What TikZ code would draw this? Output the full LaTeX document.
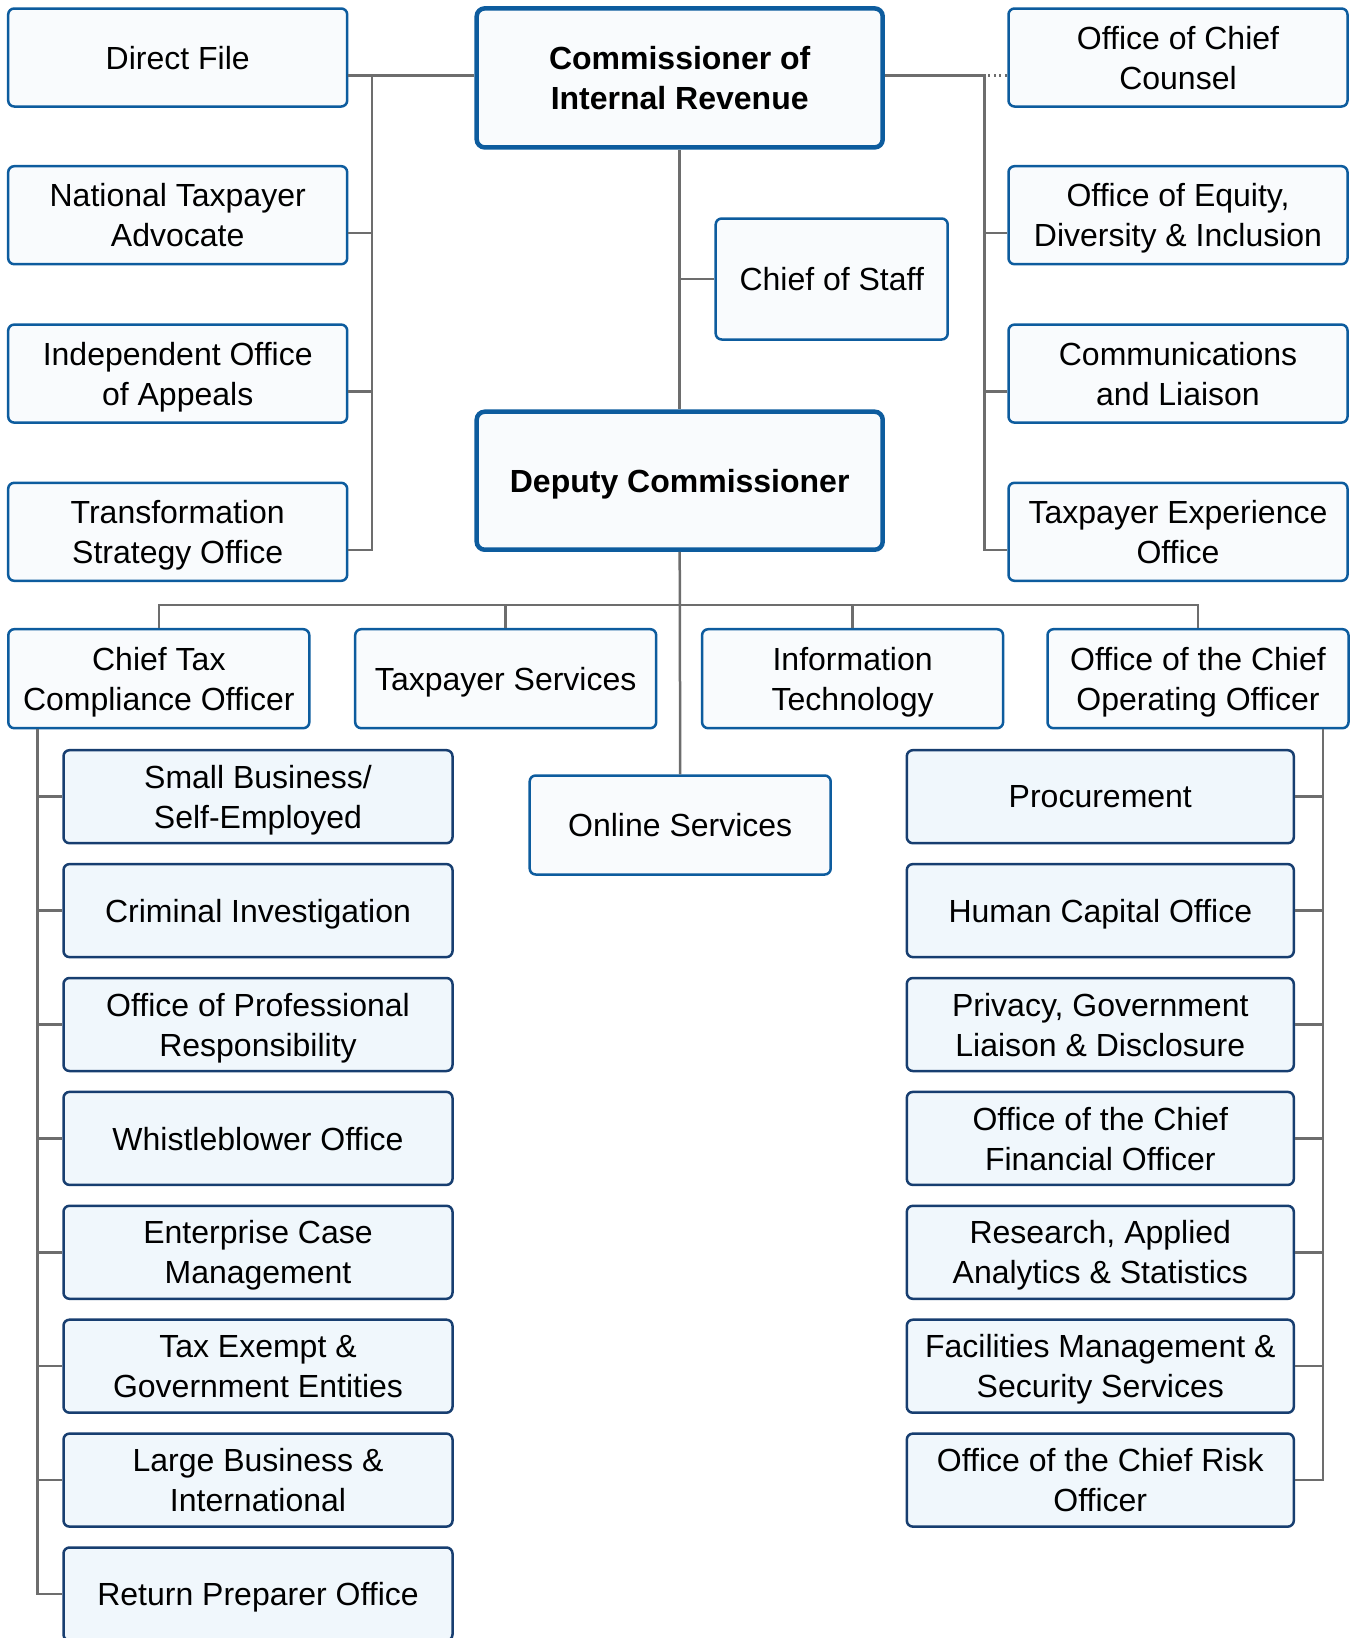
\documentclass[tikz,border=0pt]{standalone}
\usepackage{fontspec}
\setmainfont{Liberation Sans}
\definecolor{topborder}{HTML}{0D5C9E}
\definecolor{topfill}{HTML}{F9FBFD}
\definecolor{subborder}{HTML}{173E70}
\definecolor{subfill}{HTML}{F0F7FC}
\definecolor{linegray}{HTML}{6D6D6D}
\begin{document}
\begin{tikzpicture}[x=1pt,y=-1pt,
 box/.style={draw, rounded corners=6pt, line width=2.5pt, align=center, inner sep=0pt, font=\fontsize{32}{40}\selectfont, text=black, text depth=0pt},
 topbox/.style={box, draw=topborder, fill=topfill},
 sidebox/.style={topbox, minimum width=339pt, minimum height=98pt},
 rowbox/.style={topbox, minimum width=301pt, minimum height=99pt},
 bigbox/.style={topbox, line width=4.5pt, rounded corners=8pt, minimum width=406pt, font=\fontsize{32}{40}\selectfont\bfseries},
 subbox/.style={box, draw=subborder, fill=subfill, minimum width=389pt, minimum height=93pt},
 conn/.style={draw=linegray, line width=2.5pt},
 dotconn/.style={draw=linegray, line width=2.2pt, dash pattern=on 2pt off 3.5pt}]
\useasboundingbox (0,0) rectangle (1350,1638);

% left column
\node[sidebox] (direct) at (177.7,57.5) {Direct File};
\node[sidebox] (nta) at (177.7,215.2) {National Taxpayer\\Advocate};
\node[sidebox] (ioa) at (177.7,373.6) {Independent Office\\of Appeals};
\node[sidebox] (tso) at (177.7,531.8) {Transformation\\Strategy Office};
% right column
\node[sidebox] (occ) at (1178,57.5) {Office of Chief\\Counsel};
\node[sidebox] (oedi) at (1178,215.2) {Office of Equity,\\Diversity \& Inclusion};
\node[sidebox] (cl) at (1178,373.6) {Communications\\and Liaison};
\node[sidebox] (teo) at (1178,531.8) {Taxpayer Experience\\Office};
% centre
\node[bigbox, minimum height=139pt] (comm) at (679.7,77.9) {Commissioner of\\Internal Revenue};
\node[topbox, minimum width=232pt, minimum height=121pt] (cos) at (831.7,279) {Chief of Staff};
\node[bigbox, minimum height=138pt] (dep) at (679.7,480.7) {Deputy Commissioner};
% row
\node[rowbox] (ctco) at (158.8,678.7) {Chief Tax\\Compliance Officer};
\node[rowbox] (ts) at (505.7,678.7) {Taxpayer Services};
\node[rowbox] (it) at (852.6,678.7) {Information\\Technology};
\node[rowbox] (coo) at (1198,678.7) {Office of the Chief\\Operating Officer};
\node[rowbox] (online) at (680.2,825) {Online Services};
% left sub
\node[subbox] (sbse) at (258,796.7) {Small Business/\\Self-Employed};
\node[subbox] (ci) at (258,910.6) {Criminal Investigation};
\node[subbox] (opr) at (258,1024.5) {Office of Professional\\Responsibility};
\node[subbox] (wo) at (258,1138.4) {Whistleblower Office};
\node[subbox] (ecm) at (258,1252.3) {Enterprise Case\\Management};
\node[subbox] (tege) at (258,1366.2) {Tax Exempt \&\\Government Entities};
\node[subbox] (lbi) at (258,1480.1) {Large Business \&\\International};
\node[subbox] (rpo) at (258,1594.0) {Return Preparer Office};
% right sub
\node[subbox, minimum width=387pt] (proc) at (1100.3,796.7) {Procurement};
\node[subbox, minimum width=387pt] (hco) at (1100.3,910.6) {Human Capital Office};
\node[subbox, minimum width=387pt] (pgld) at (1100.3,1024.5) {Privacy, Government\\Liaison \& Disclosure};
\node[subbox, minimum width=387pt] (cfo) at (1100.3,1138.4) {Office of the Chief\\Financial Officer};
\node[subbox, minimum width=387pt] (raas) at (1100.3,1252.3) {Research, Applied\\Analytics \& Statistics};
\node[subbox, minimum width=387pt] (fmss) at (1100.3,1366.2) {Facilities Management \&\\Security Services};
\node[subbox, minimum width=387pt] (ocro) at (1100.3,1480.1) {Office of the Chief Risk\\Officer};

% bus coordinates
\coordinate (lbus) at (372,0);
\coordinate (rbus) at (984.3,0);
\coordinate (hbus) at (0,605);
\coordinate (lsub) at (37.6,0);
\coordinate (rsub) at (1322.8,0);

% left group
\coordinate (ltop) at ([yshift=2.5pt]comm.west -| lbus);
\draw[conn] ([yshift=2.5pt]comm.west) -- ([yshift=2.5pt]comm.west -| direct.east);
\draw[conn] (ltop) -- ([yshift=-18pt]tso.east -| lbus) -- ([yshift=-18pt]tso.east);
\draw[conn] ([yshift=-18pt]nta.east) -- ([yshift=-18pt]nta.east -| lbus);
\draw[conn] ([yshift=-18pt]ioa.east) -- ([yshift=-18pt]ioa.east -| lbus);

% right group
\coordinate (rtop) at ([yshift=2.5pt]comm.east -| rbus);
\draw[conn] ([yshift=2.5pt]comm.east) -- (rtop) -- ([yshift=-18pt]teo.west -| rbus) -- ([yshift=-18pt]teo.west);
\draw[dotconn] ([xshift=4pt]rtop) -- (rtop -| occ.west);
\draw[conn] ([yshift=-18pt]oedi.west) -- ([yshift=-18pt]oedi.west -| rbus);
\draw[conn] ([yshift=-18pt]cl.west) -- ([yshift=-18pt]cl.west -| rbus);

% centre spine
\draw[conn] (comm.south) -- (dep.north);
\draw[conn] (cos.west) -- (cos.west -| comm.south);
\draw[conn] (dep.south) -- (online.north);
\draw[conn] (ctco.north) -- (ctco.north |- hbus) -- (coo.north |- hbus) -- (coo.north);
\draw[conn] (ts.north) -- (ts.north |- hbus);
\draw[conn] (it.north) -- (it.north |- hbus);

% left sub
\draw[conn] (ctco.south -| lsub) -- (rpo.west -| lsub) -- (rpo.west);
\foreach \n in {sbse,ci,opr,wo,ecm,tege,lbi} \draw[conn] (\n.west) -- (\n.west -| lsub);

% right sub
\draw[conn] (coo.south -| rsub) -- (ocro.east -| rsub) -- (ocro.east);
\foreach \n in {proc,hco,pgld,cfo,raas,fmss} \draw[conn] (\n.east) -- (\n.east -| rsub);
\end{tikzpicture}
\end{document}
